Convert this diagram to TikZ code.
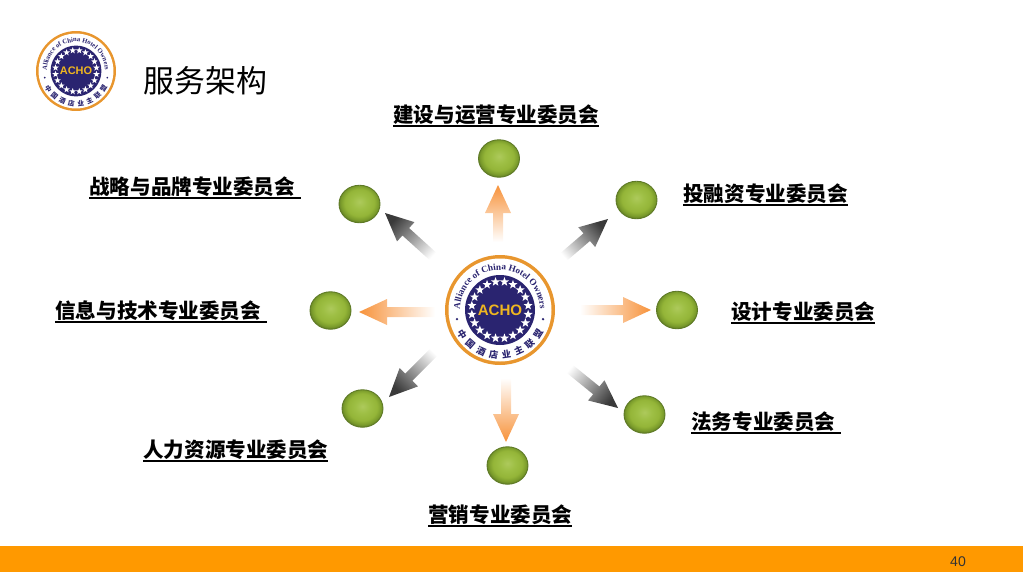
\documentclass[tikz,border=0pt]{standalone}
\usepackage{fontspec}
\setmainfont{Liberation Sans}
\newfontfamily\cjk{Noto Sans CJK SC}
\newfontfamily\logoserif{Liberation Serif}
\usepackage{xcolor}
\usepackage{tikz}
\usetikzlibrary{shapes.geometric,positioning,calc,decorations.text}

\definecolor{barorange}{HTML}{FF9900}
\definecolor{ringorange}{HTML}{E8962E}
\definecolor{logonavy}{HTML}{2A2470}
\definecolor{arroworange}{HTML}{F7923A}
\definecolor{arrowgray}{HTML}{3A3A3A}
\definecolor{ballrim}{HTML}{5E7A26}

\pgfdeclareradialshading{ballgreen}{\pgfpoint{0bp}{3bp}}{
    rgb(0bp)=(0.68,0.79,0.36);
    rgb(9bp)=(0.62,0.75,0.27);
    rgb(18bp)=(0.58,0.71,0.22);
    rgb(23bp)=(0.48,0.61,0.17);
    rgb(27bp)=(0.36,0.46,0.14);
    rgb(50bp)=(0.36,0.46,0.14)}

% shaded arrow between two named points
\newcommand{\spoke}[3]{%
    \pgfmathanglebetweenpoints{\pgfpointanchor{#1}{center}}{\pgfpointanchor{#2}{center}}%
    \let\spokeangle\pgfmathresult
    \coordinate (neck) at ($(#2)!0.56cm!(#1)$);
    \shade[top color=#3, bottom color=white, shading angle=\spokeangle-90]
        ($(#1)!0.1cm!90:(#2)$) -- ($(neck)!0.1cm!90:(#2)$)
        -- ($(neck)!0.26cm!90:(#2)$) -- (#2)
        -- ($(neck)!0.26cm!-90:(#2)$) -- ($(neck)!0.1cm!-90:(#2)$)
        -- ($(#1)!0.1cm!-90:(#2)$) -- cycle;}

% round badge: name, x, y, scale
\newcommand{\achologo}[4]{%
    \pgfmathsetmacro{\fsband}{#4*8.6}
    \pgfmathsetmacro{\fstop}{#4*5.2}
    \pgfmathsetmacro{\fslow}{#4*5.2}
    \begin{scope}[shift={(#2,#3)}, x=#4*0.02cm, y=#4*0.02cm]
        \fill[ringorange] (0,0) circle[radius=55];
        \fill[white] (0,0) circle[radius=51.5];
        \fill[logonavy] (0,0) circle[radius=35];
        \foreach \i in {1,...,20}
            \node[star, star points=5, star point ratio=2.4, fill=white, inner sep=0pt,
                minimum size=#4*5.4pt] (#1s\i) at (\i*18+9:28.5) {};
        \node[inner sep=0pt, text=ringorange!70!yellow, font=\bfseries\fontsize{\fsband}{\fsband}\selectfont] (#1) at (0,0) {ACHO};
        \path[decorate, decoration={text along path, text align=center,
            text={|\logoserif\bfseries\fontsize{\fstop}{\fstop}\selectfont\color{logonavy}|Alliance of China Hotel Owners}}]
            (190:40) arc[start angle=190, end angle=-10, radius=40];
        \path[decorate, decoration={text along path, text align={fit to path},
            text={|\cjk\bfseries\fontsize{\fslow}{\fslow}\selectfont\color{logonavy}|中国酒店业主联盟}}]
            (207:48.5) arc[start angle=207, end angle=333, radius=48.5];
        \fill[logonavy] (192:44) circle[radius=1.3] (-12:44) circle[radius=1.3];
    \end{scope}}

\begin{document}
\begin{tikzpicture}[x=0.02cm, y=-0.02cm,
    ball/.style={ellipse, draw=ballrim, line width=0.5pt, shading=ballgreen, minimum width=0.82cm, minimum height=0.75cm, inner sep=0pt},
    lbl/.style={anchor=west, inner sep=0pt, font=\cjk\bfseries\fontsize{11.7}{14}\selectfont}]
    \useasboundingbox (0,0) rectangle (1023,585);

    % footer
    \node[fill=barorange, minimum width=20.46cm, minimum height=0.52cm, inner sep=0pt, anchor=north west] (bar) at (0,546) {};
    \node[font=\fontsize{8}{10}\selectfont, text=black!80] (page) at (958,562) {40};

    % title
    \achologo{logosmall}{76}{71}{0.727}
    \node[anchor=west, inner sep=0pt, font=\cjk\fontsize{17.6}{20}\selectfont] (title) at (143,81) {服务架构};

    % centre and outer balls
    \achologo{hub}{500}{310}{1}
    \node[ball] (bN) at (499,158.5) {};
    \node[ball] (bNE) at (636.5,200) {};
    \node[ball] (bE) at (677,310) {};
    \node[ball] (bSE) at (644.5,414.5) {};
    \node[ball] (bS) at (507.5,465.5) {};
    \node[ball] (bSW) at (362.5,408.5) {};
    \node[ball] (bW) at (330.5,310.5) {};
    \node[ball] (bNW) at (359.5,204) {};

    % free ends of the arrows
    \coordinate (tN) at (498,242);   \coordinate (hN) at (498,185);
    \coordinate (tNE) at (560,260);  \coordinate (hNE) at (608,219);
    \coordinate (tE) at (580,310);   \coordinate (hE) at (651,310);
    \coordinate (tSE) at (565,365);  \coordinate (hSE) at (618,408);
    \coordinate (tS) at (506,378);   \coordinate (hS) at (506,442);
    \coordinate (tSW) at (438,348);  \coordinate (hSW) at (389,397);
    \coordinate (tW) at (435,312);   \coordinate (hW) at (359,312);
    \coordinate (tNW) at (437,260);  \coordinate (hNW) at (385,213);

    \spoke{tN}{hN}{arroworange}
    \spoke{tNE}{hNE}{arrowgray}
    \spoke{tE}{hE}{arroworange}
    \spoke{tSE}{hSE}{arrowgray}
    \spoke{tS}{hS}{arroworange}
    \spoke{tSW}{hSW}{arrowgray}
    \spoke{tW}{hW}{arroworange}
    \spoke{tNW}{hNW}{arrowgray}

    % labels
    \newcommand{\ulbl}[1]{\setbox0\hbox{#1}\rlap{\rule[-2.4pt]{\wd0}{0.9pt}}\box0}
    \node[lbl] (lN) at (393,116) {\ulbl{建设与运营专业委员会}};
    \node[lbl] (lNE) at (683,195) {\ulbl{投融资专业委员会}};
    \node[lbl] (lE) at (731,313) {\ulbl{设计专业委员会}};
    \node[lbl] (lSE) at (691,423) {\ulbl{法务专业委员会\hspace{3.4pt}}};
    \node[lbl] (lS) at (428,516) {\ulbl{营销专业委员会}};
    \node[lbl] (lSW) at (143,451) {\ulbl{人力资源专业委员会}};
    \node[lbl] (lW) at (55,312) {\ulbl{信息与技术专业委员会\hspace{3.4pt}}};
    \node[lbl] (lNW) at (89,188) {\ulbl{战略与品牌专业委员会\hspace{3.4pt}}};
\end{tikzpicture}
\end{document}
